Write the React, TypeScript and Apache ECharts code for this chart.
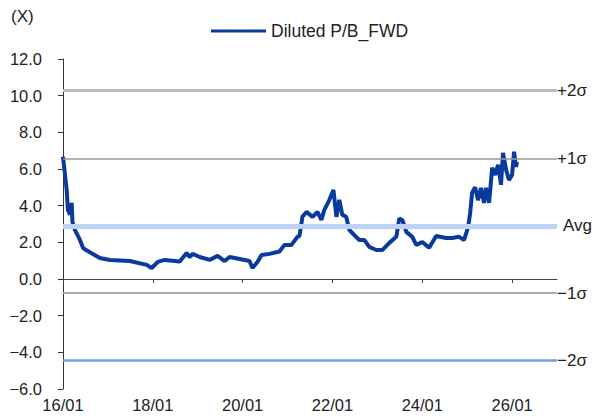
import React, { useEffect, useRef } from "react";
import * as echarts from "echarts";

const seriesName = "Diluted P/B_FWD";

const dates = [
  "2016-01-01", "2016-01-31", "2016-02-10", "2016-02-27", "2016-03-12", "2016-03-18",
  "2016-04-07", "2016-05-18", "2016-06-12", "2016-07-06", "2016-10-27", "2017-01-17",
  "2017-06-28", "2017-11-13", "2017-12-07", "2017-12-23", "2018-02-10", "2018-04-07",
  "2018-08-07", "2018-10-03", "2018-10-27", "2018-11-21", "2019-01-17", "2019-04-08",
  "2019-06-11", "2019-08-08", "2019-09-17", "2019-12-07", "2020-02-26", "2020-03-21",
  "2020-05-01", "2020-06-03", "2020-08-07", "2020-10-27", "2020-12-07", "2021-02-02",
  "2021-03-22", "2021-04-08", "2021-05-02", "2021-06-04", "2021-07-23", "2021-09-01",
  "2021-10-03", "2021-10-27", "2021-12-07", "2022-01-09", "2022-02-02", "2022-02-26",
  "2022-03-22", "2022-04-23", "2022-05-18", "2022-06-27", "2022-08-07", "2022-09-17",
  "2022-10-27", "2022-12-23", "2023-02-10", "2023-04-08", "2023-06-04", "2023-06-28",
  "2023-07-23", "2023-08-24", "2023-10-12", "2023-11-13", "2024-01-01", "2024-02-26",
  "2024-04-23", "2024-07-13", "2024-09-01", "2024-10-27", "2024-12-07", "2025-01-09",
  "2025-01-25", "2025-02-10", "2025-03-07", "2025-03-30", "2025-04-23", "2025-05-18",
  "2025-06-03", "2025-06-28", "2025-07-23", "2025-08-16", "2025-09-09", "2025-10-03",
  "2025-10-19", "2025-11-13", "2025-12-07", "2026-01-01", "2026-01-17", "2026-02-02",
  "2026-02-10",
];

const pbValues = [
  6.67, 4.86, 3.77, 3.5, 4.15, 3.1,
  2.68, 2.13, 1.7, 1.58, 1.15, 1.04,
  0.98, 0.77, 0.66, 0.6, 0.93, 1.04,
  0.95, 1.42, 1.2, 1.37, 1.2, 1.04,
  1.26, 0.98, 1.2, 1.09, 0.98, 0.6,
  0.93, 1.31, 1.37, 1.5, 1.86, 1.86,
  2.3, 2.35, 3.39, 3.66, 3.39, 3.66,
  3.22, 3.77, 4.32, 4.86, 3.39, 4.32,
  3.5, 3.39, 2.68, 2.4, 2.13, 2.13,
  1.75, 1.58, 1.58, 1.97, 2.3, 3.3,
  3.22, 2.57, 2.3, 1.86, 2.02, 1.7,
  2.35, 2.24, 2.24, 2.3, 2.13, 2.84,
  3.6, 4.7, 5.0, 4.3, 4.97, 4.15,
  4.97, 4.15, 6.07, 5.68, 6.23, 5.14,
  6.88, 5.96, 5.4, 5.68, 6.94, 6.12,
  6.39,
];

const xTickLabels = ["16/01", "18/01", "20/01", "22/01", "24/01", "26/01"];
const xMin = 2016;
const xMax = 2027;

const bandNames = ["+2σ", "+1σ", "Avg", "−1σ", "−2σ"];
const bandValues = [10.27, 6.58, 2.9, -0.77, -4.43];

const yMin = -6;
const yMax = 12;
const yInterval = 2;

const FONT = "'Liberation Sans', Arial, sans-serif";
const TXT = "#222";

function toYear(d: string): number {
  const [y, m, day] = d.split("-").map(Number);
  const start = Date.UTC(y, 0, 1);
  const end = Date.UTC(y + 1, 0, 1);
  return y + (Date.UTC(y, m - 1, day) - start) / (end - start);
}

function tickYear(label: string): number {
  const [yy, mm] = label.split("/").map(Number);
  return 2000 + yy + (mm - 1) / 12;
}

export default function App() {
  const ref = useRef<HTMLDivElement>(null);

  useEffect(() => {
    if (!ref.current) return;
    const chart = echarts.init(ref.current, null, { renderer: "svg" });
    const data = dates.map((d, i) => [toYear(d), pbValues[i]]);
    const tickVals = xTickLabels.map(tickYear);
    const labelFor = (v: number) => {
      let best = 0;
      for (let i = 0; i < tickVals.length; i++) {
        if (Math.abs(tickVals[i] - v) < Math.abs(tickVals[best] - v)) best = i;
      }
      return xTickLabels[best];
    };

    const bandStyles = [
      { color: "#bdbdbd", width: 3, dist: 0 },
      { color: "#9a9a9a", width: 1.5, dist: 0 },
      { color: "#bcd3f5", width: 5, dist: 6 },
      { color: "#aaaaaa", width: 2, dist: 0 },
      { color: "#6f9fec", width: 2.5, dist: 0 },
    ];

    chart.setOption({
      animation: false,
      textStyle: { fontFamily: FONT, color: TXT },
      grid: { left: 63, right: 44, top: 59, bottom: 30, containLabel: false },
      legend: {
        data: [seriesName],
        left: 206,
        top: 17,
        icon: "rect",
        itemWidth: 55,
        itemHeight: 3,
        textStyle: { fontFamily: FONT, fontSize: 17.5, color: TXT },
      },
      graphic: [
        {
          type: "text",
          left: 11,
          top: 8,
          style: { text: "(X)", fontFamily: FONT, fontSize: 17, fill: TXT },
        },
      ],
      xAxis: [
        {
          type: "value",
          min: xMin,
          max: xMax,
          axisLine: { onZero: true, lineStyle: { color: "#444", width: 1 } },
          axisTick: { show: true, length: 4, customValues: tickVals, lineStyle: { color: "#444" } },
          axisLabel: { show: false },
          splitLine: { show: false },
        },
        {
          type: "value",
          min: xMin,
          max: xMax,
          position: "bottom",
          axisLine: { show: false, onZero: false },
          axisTick: { show: false },
          axisLabel: {
            show: true,
            customValues: tickVals,
            margin: 7,
            fontSize: 16.5,
            color: TXT,
            fontFamily: FONT,
            formatter: (v: number) => labelFor(v),
          },
          splitLine: { show: false },
        },
      ],
      yAxis: {
        type: "value",
        min: yMin,
        max: yMax,
        interval: yInterval,
        axisLine: { show: true, lineStyle: { color: "#333", width: 1 } },
        axisTick: { show: true, length: 5, lineStyle: { color: "#333" } },
        axisLabel: {
          margin: 21,
          fontSize: 16.5,
          color: TXT,
          fontFamily: FONT,
          formatter: (v: number) => v.toFixed(1).replace("-", "−"),
        },
        splitLine: { show: false },
      },
      series: [
        {
          name: "bands",
          type: "line",
          data: data,
          xAxisIndex: 0,
          symbol: "none",
          silent: true,
          z: 1,
          lineStyle: { opacity: 0 },
          markLine: {
            silent: true,
            symbol: ["none", "none"],
            data: bandValues.map((v, i) => ({
              yAxis: v,
              lineStyle: { color: bandStyles[i].color, width: bandStyles[i].width, type: "solid" },
              label: {
                show: true,
                position: "end",
                distance: bandStyles[i].dist,
                formatter: bandNames[i],
                fontSize: 17,
                color: TXT,
                fontFamily: FONT,
              },
            })),
          },
        },
        {
          name: seriesName,
          type: "line",
          data: data,
          xAxisIndex: 0,
          symbol: "none",
          z: 3,
          lineStyle: { color: "#0b3a9e", width: 4 },
          itemStyle: { color: "#0b3a9e" },
        },
      ],
    });

    return () => chart.dispose();
  }, []);

  return (
    <div
      ref={ref}
      style={{ position: "absolute", left: 0, top: 0, width: 601, height: 419 }}
    />
  );
}
